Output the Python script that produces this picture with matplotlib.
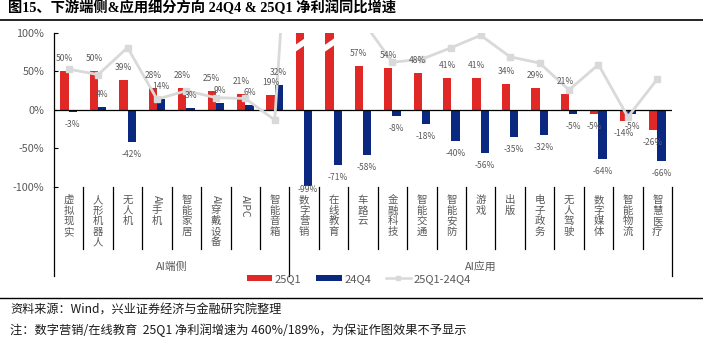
import re
import matplotlib
matplotlib.use('Agg')
import matplotlib.pyplot as plt
from matplotlib import transforms
from matplotlib.patches import Patch, Polygon
from matplotlib.lines import Line2D

plt.rcParams['font.family'] = ['Noto Sans CJK SC', 'DejaVu Sans']
plt.rcParams['axes.unicode_minus'] = False

# 数据
categories = ['虚拟现实', '人形机器人', '无人机', 'AI手机', '智能家居', 'AI穿戴设备', 'AIPC', '智能音箱',
              '数字营销', '在线教育', '车路云', '金融科技', '智能交通', '智能安防', '游戏', '出版',
              '电子政务', '无人驾驶', '数字媒体', '智能物流', '智慧医疗']
q1_25 = [50, 50, 39, 28, 28, 25, 21, 19, 460, 189, 57, 54, 48, 41, 41, 34, 29, 21, -5, -14, -26]
q4_24 = [-3, 4, -42, 14, 3, 9, 6, 32, -99, -71, -58, -8, -18, -40, -56, -35, -32, -5, -64, -5, -66]
diff = [53, 46, 81, 14, 25, 16, 15, -13, 559, 260, 115, 62, 66, 81, 97, 69, 61, 26, 59, -9, 40]
groups = ['AI端侧', 'AI应用']
group_sizes = [8, 13]
yticks = [-100, -50, 0, 50, 100]

RED = '#E02826'
BLUE = '#0B2880'
LGRAY = '#D9D9D9'
GRAY = '#595959'
W, H, DPI = 703, 341, 100

fig = plt.figure(figsize=(W / DPI, H / DPI), dpi=DPI)
ax = fig.add_axes([54 / W, 1 - 187 / H, (672 - 54) / W, (187 - 33) / H])

x = list(range(len(categories)))
bw = 0.28
ax.bar([i - bw / 2 for i in x], q1_25, width=bw, color=RED, zorder=2)
ax.bar([i + bw / 2 for i in x], q4_24, width=bw, color=BLUE, zorder=2)
ax.plot(x, diff, color=LGRAY, lw=2, marker='s', markersize=5, zorder=4)
ax.axhline(0, color='black', lw=0.9, zorder=3)

# 超出范围的柱子画断开标记
for i, v in enumerate(q1_25):
    if v > 100:
        xl, xr = i - bw - 0.04, i + 0.02
        ax.add_patch(Polygon([(xl, 75), (xl, 84), (xr, 93), (xr, 84)], closed=True,
                             facecolor='white', edgecolor='none', zorder=3))

# 数据标签
def label(xp, v):
    if v > 100:
        return
    yv = max(v, -87)
    off = 9 if v >= 0 else -9
    ax.annotate(f'{v}%', (xp, yv), xytext=(0, off), textcoords='offset points',
                ha='center', va='center', fontsize=6.1, color=GRAY, zorder=5)

for i in x:
    label(i - bw / 2, q1_25[i])
    label(i + bw / 2, q4_24[i])

ax.set_xlim(-0.5, len(categories) - 0.5)
ax.set_ylim(-100, 100)
ax.set_yticks(yticks)
ax.set_yticklabels([f'{t}%' for t in yticks])
ax.tick_params(axis='y', direction='in', length=3, width=0.8, colors='black',
               labelcolor=GRAY, labelsize=7.8, pad=7)
ax.set_xticks([])
for s in ['top', 'right', 'bottom']:
    ax.spines[s].set_visible(False)
ax.spines['left'].set_linewidth(0.9)

# 坐标轴下方的分类标签和分隔线
blend = transforms.blended_transform_factory(ax.transData, fig.dpi_scale_trans)

def py(px):
    return (H - px) / DPI

fig.canvas.draw()
renderer = fig.canvas.get_renderer()

for i, name in enumerate(categories):
    cur = 195
    for seg in re.findall(r'[A-Za-z]+|.', name):
        if seg.isascii():
            t = ax.text(i, py(cur), seg, rotation=270, ha='center', va='top', transform=blend,
                        fontsize=7.5, color=GRAY, clip_on=False)
            cur += t.get_window_extent(renderer).height + 1
        else:
            ax.text(i, py(cur), seg, ha='center', va='top', transform=blend,
                    fontsize=7.5, color=GRAY, clip_on=False)
            cur += 10.6

bounds = [-0.5]
for g in group_sizes:
    bounds.append(bounds[-1] + g)
for k in range(len(categories) + 1):
    xb = k - 0.5
    bottom = 276 if xb in bounds else 249
    ax.plot([xb, xb], [py(187), py(bottom)], transform=blend, color='black', lw=0.9, clip_on=False)

for g, b0, b1 in zip(groups, bounds[:-1], bounds[1:]):
    ax.text((b0 + b1) / 2, py(267), g, ha='center', va='center', transform=blend,
            fontsize=7.8, color=GRAY)

# 图例
handles = [Patch(facecolor=RED), Patch(facecolor=BLUE),
           Line2D([], [], color=LGRAY, lw=1.8, marker='s', markersize=2.5)]
fig.legend(handles, ['25Q1', '24Q4', '25Q1-24Q4'], loc='center', ncol=3,
           bbox_to_anchor=(359 / W, 1 - 279 / H), frameon=False, fontsize=8,
           labelcolor=GRAY, handlelength=2.3, handleheight=0.5, handletextpad=0.25,
           columnspacing=1.3)

# 标题与注释
fig.text(8 / W, 1 - 8 / H, '图15、下游端侧&应用细分方向 24Q4 & 25Q1 净利润同比增速',
         fontsize=10.3, fontweight='bold', va='center', ha='left',
         family=['Liberation Serif', 'Noto Sans CJK SC'])
fig.add_artist(Line2D([0, 1], [1 - 20 / H, 1 - 20 / H], color='black', lw=1.2))
fig.add_artist(Line2D([0, 1], [1 - 298 / H, 1 - 298 / H], color='black', lw=1))
fig.text(10 / W, 1 - 310 / H, '资料来源：Wind，兴业证券经济与金融研究院整理',
         fontsize=8.7, va='center', ha='left', color='#1a1a1a')
fig.text(10 / W, 1 - 330 / H, '注：数字营销/在线教育  25Q1 净利润增速为 460%/189%，为保证作图效果不予显示',
         fontsize=8.8, va='center', ha='left', color='#1a1a1a')

fig.savefig('out.png', dpi=DPI)
